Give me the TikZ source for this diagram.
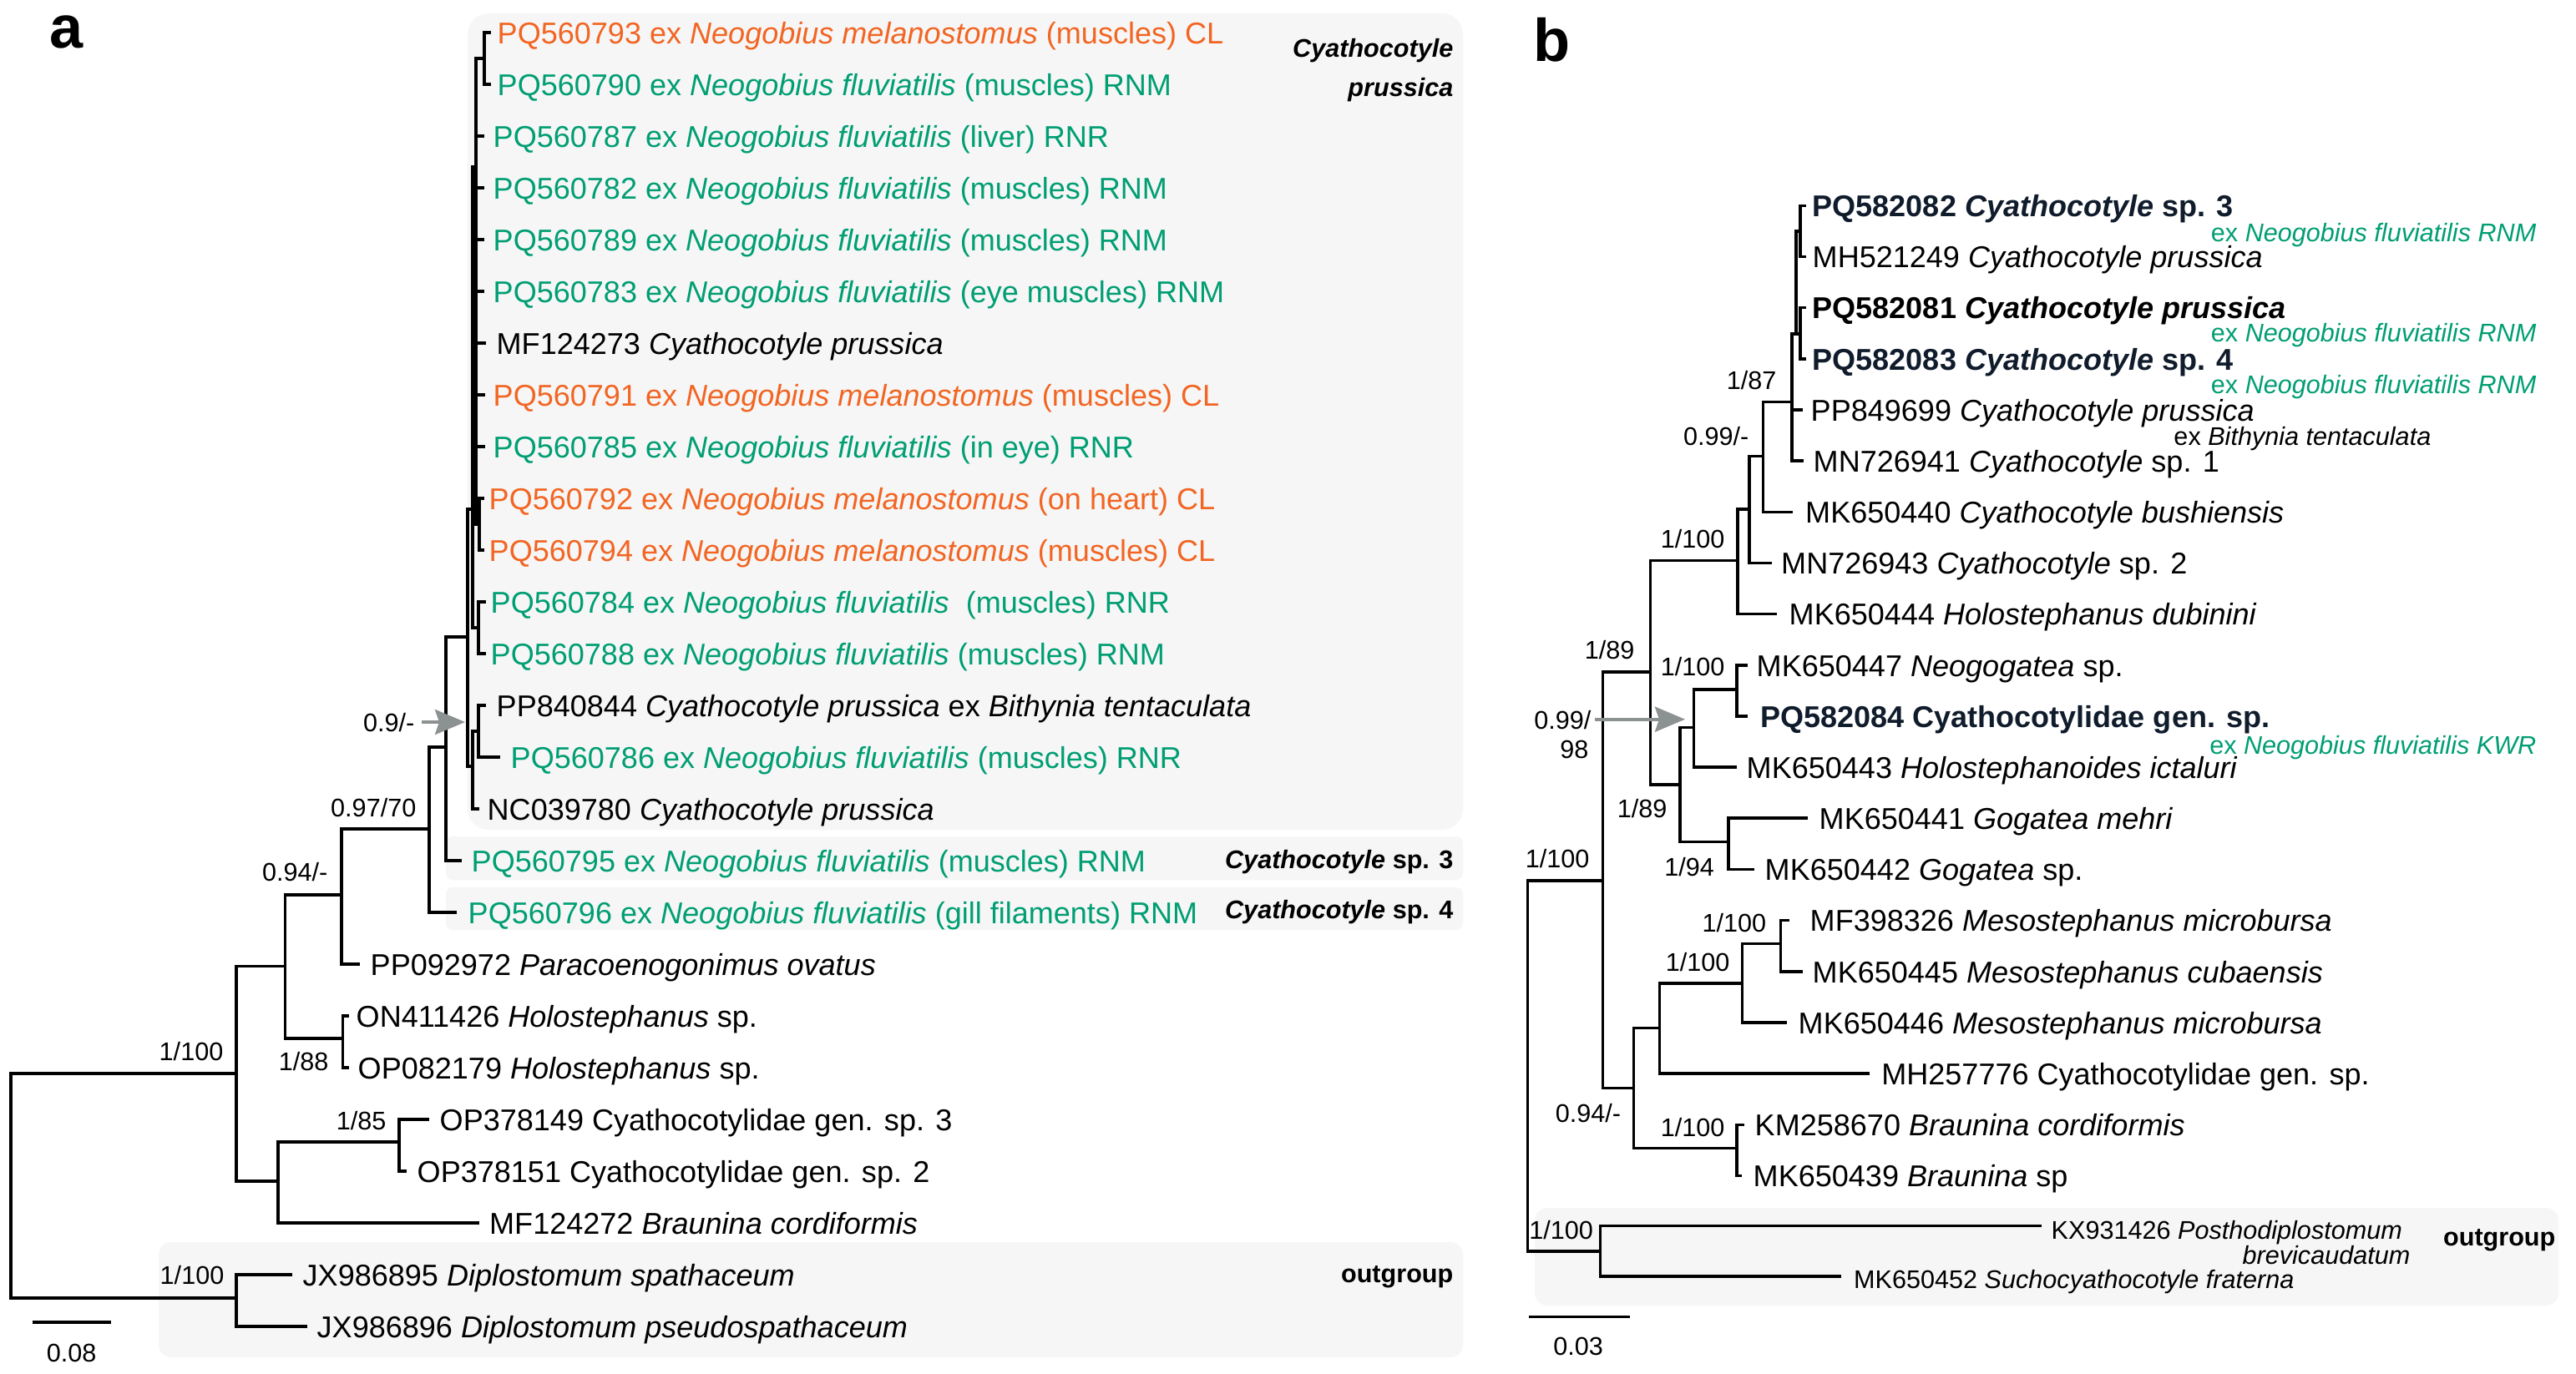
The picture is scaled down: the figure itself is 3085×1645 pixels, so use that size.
\documentclass[tikz,border=0pt]{standalone}
\usepackage{fontspec}
\setmainfont{Liberation Sans}
\usetikzlibrary{arrows.meta}
\definecolor{orng}{RGB}{242,101,34}
\definecolor{grn}{RGB}{0,158,115}
\definecolor{boxg}{RGB}{246,246,246}
\definecolor{arrg}{RGB}{140,145,145}
\definecolor{navy}{RGB}{16,28,44}
\newcommand\mainfs{\fontsize{10.25}{12}\selectfont}
\newcommand\smallfs{\fontsize{8.7}{10}\selectfont}
\newcommand\NeoM{\textit{Neogobius melanostomus}}
\newcommand\NeoF{\textit{Neogobius fluviatilis}}
\newcommand\Cyp{\textit{Cyathocotyle prussica}}
\begin{document}
\begin{tikzpicture}[x=0.01cm,y=-0.01cm,
  br/.style={line width=0.9pt,line cap=rect},
  tx/.style={anchor=base west,inner sep=0pt,font=\mainfs},
  txs/.style={anchor=base west,inner sep=0pt,font=\smallfs},
  supp/.style={anchor=base east,inner sep=0pt,font=\smallfs},
  rlab/.style={anchor=base east,inner sep=0pt,font=\smallfs\bfseries},
  box/.style={fill=boxg},
  pointer/.style={draw=arrg,fill=arrg,line width=1.1pt,-{Stealth[length=0.36cm,width=0.30cm,inset=0.05cm]}},
  panel/.style={anchor=base west,inner sep=0pt,font=\fontsize{20.5}{24}\selectfont\bfseries}]
\useasboundingbox (0,0) rectangle (3085,1645);
\fill[white] (0,0) rectangle (3085,1645);

% ---------------- boxes ----------------
\fill[box,rounded corners=0.25cm] (560,16) rectangle (1752,994);
\fill[box,rounded corners=0.08cm] (534,1002) rectangle (1752,1054);
\fill[box,rounded corners=0.08cm] (534,1063) rectangle (1752,1114);
\fill[box,rounded corners=0.15cm] (190,1488) rectangle (1752,1626);
\fill[box,rounded corners=0.15cm] (1838,1447) rectangle (3064,1564);

% ---------------- panel labels ----------------
\node[panel] (pa) at (59,57) {a};
\node[panel] (pb) at (1836,73) {b};

% ================= PANEL A =================
\coordinate (Ra) at (13,1420);
\coordinate (ING) at (283,1286);
\coordinate (OUT) at (283,1555);
\coordinate (BRn) at (333,1415);
\coordinate (OPn) at (478,1368);
\coordinate (An) at (341.6,1157.5);
\coordinate (HOL) at (410.5,1244);
\coordinate (Cp) at (409,1072);
\coordinate (Cn) at (514,993);
\coordinate (Dn) at (534,895);
\coordinate (En) at (560,763);
\coordinate (Un) at (566,610);
\coordinate (Vn) at (570,200);
\coordinate (n1) at (580,70);
\coordinate (Xn) at (574,628);
\coordinate (Wn) at (573,752);
\coordinate (Ln) at (566,918);
\coordinate (Yn) at (573,876);
% tips
\coordinate (r1) at (586,39);
\coordinate (r2) at (586,101);
\coordinate (r3) at (578,163);
\coordinate (r4) at (578,225);
\coordinate (r5) at (578,287);
\coordinate (r6) at (578,349);
\coordinate (r7) at (580,411);
\coordinate (r8) at (579,473);
\coordinate (r9) at (579,535);
\coordinate (r10) at (578,597);
\coordinate (r11) at (578,659);
\coordinate (r12) at (580,721);
\coordinate (r13) at (580,783);
\coordinate (r14) at (580,845);
\coordinate (r15) at (597,907);
\coordinate (r16) at (572,969);
\coordinate (r17) at (551,1031);
\coordinate (r18) at (545,1093);
\coordinate (r19) at (429,1155);
\coordinate (r20) at (416,1217);
\coordinate (r21) at (416,1279);
\coordinate (r22) at (512,1341);
\coordinate (r23) at (485,1403);
\coordinate (r24) at (572,1465);
\coordinate (r25) at (348,1527);
\coordinate (r26) at (366,1589);

\foreach \p/\c in {Ra/ING,Ra/OUT,OUT/r25,OUT/r26,ING/An,ING/BRn,BRn/OPn,BRn/r24,
  OPn/r22,OPn/r23,An/Cp,An/HOL,HOL/r20,HOL/r21,Cp/Cn,Cp/r19,Cn/Dn,Cn/r18,
  Dn/En,Dn/r17,En/Un,En/Ln,Un/Vn,Un/Wn,Vn/n1,Vn/r3,Vn/r4,Vn/r5,Vn/r6,Vn/r7,
  Vn/r8,Vn/r9,Vn/Xn,n1/r1,n1/r2,Xn/r10,Xn/r11,Wn/r12,Wn/r13,Ln/Yn,Ln/r16,
  Yn/r14,Yn/r15}
  \draw[br] (\p) |- (\c);

% tip labels
\node[tx,text=orng] (ta1) at (595,52) {PQ560793 ex \NeoM{} (muscles) CL};
\node[tx,text=grn] (ta2) at (595,114) {PQ560790 ex \NeoF{} (muscles) RNM};
\node[tx,text=grn] (ta3) at (590,176) {PQ560787 ex \NeoF{} (liver) RNR};
\node[tx,text=grn] (ta4) at (590,238) {PQ560782 ex \NeoF{} (muscles) RNM};
\node[tx,text=grn] (ta5) at (590,300) {PQ560789 ex \NeoF{} (muscles) RNM};
\node[tx,text=grn] (ta6) at (590,362) {PQ560783 ex \NeoF{} (eye muscles) RNM};
\node[tx] (ta7) at (594,424) {MF124273 \Cyp};
\node[tx,text=orng] (ta8) at (590,486) {PQ560791 ex \NeoM{} (muscles) CL};
\node[tx,text=grn] (ta9) at (590,548) {PQ560785 ex \NeoF{} (in eye) RNR};
\node[tx,text=orng] (ta10) at (585,610) {PQ560792 ex \NeoM{} (on heart) CL};
\node[tx,text=orng] (ta11) at (585,672) {PQ560794 ex \NeoM{} (muscles) CL};
\node[tx,text=grn] (ta12) at (587,734) {PQ560784 ex \NeoF{}\ \ (muscles) RNR};
\node[tx,text=grn] (ta13) at (587,796) {PQ560788 ex \NeoF{} (muscles) RNM};
\node[tx] (ta14) at (594,858) {PP840844 \Cyp{} ex \textit{Bithynia tentaculata}};
\node[tx,text=grn] (ta15) at (611,920) {PQ560786 ex \NeoF{} (muscles) RNR};
\node[tx] (ta16) at (583,982) {NC039780 \Cyp};
\node[tx,text=grn] (ta17) at (564,1044) {PQ560795 ex \NeoF{} (muscles) RNM};
\node[tx,text=grn] (ta18) at (560,1106) {PQ560796 ex \NeoF{} (gill filaments) RNM};
\node[tx] (ta19) at (443,1168) {PP092972 \textit{Paracoenogonimus ovatus}};
\node[tx] (ta20) at (426,1230) {ON411426 \textit{Holostephanus} sp.};
\node[tx] (ta21) at (428,1292) {OP082179 \textit{Holostephanus} sp.};
\node[tx] (ta22) at (526,1354) {OP378149 Cyathocotylidae gen. sp. 3};
\node[tx] (ta23) at (499,1416) {OP378151 Cyathocotylidae gen. sp. 2};
\node[tx] (ta24) at (585.5,1478) {MF124272 \textit{Braunina cordiformis}};
\node[tx] (ta25) at (362,1540) {JX986895 \textit{Diplostomum spathaceum}};
\node[tx] (ta26) at (379,1602) {JX986896 \textit{Diplostomum pseudospathaceum}};

% group labels
\node[rlab] (ga1) at (1741,68) {\itshape Cyathocotyle};
\node[rlab] (ga2) at (1741,115) {\itshape prussica};
\node[rlab] (ga3) at (1741,1040) {\textit{Cyathocotyle} sp. 3};
\node[rlab] (ga4) at (1741,1100) {\textit{Cyathocotyle} sp. 4};
\node[rlab] (ga5) at (1741,1536) {outgroup};

% supports
\node[supp] (sa1) at (497,876) {0.9/-};
\node[supp] (sa2) at (499,978) {0.97/70};
\node[supp] (sa3) at (393,1055) {0.94/-};
\node[supp] (sa4) at (268,1270) {1/100};
\node[supp] (sa5) at (394,1282) {1/88};
\node[supp] (sa6) at (463,1353) {1/85};
\node[supp] (sa7) at (269,1538) {1/100};

% arrow a
\coordinate (arA) at (557,865);
\draw[pointer] (sa1.east |- arA) ++(8,0) -- (arA);

% scale bar a
\coordinate (sba1) at (38.5,1584);
\coordinate (sba2) at (133,1584);
\draw[br,line cap=butt] (sba1) -- (sba2);
\node[anchor=base,inner sep=0pt,font=\smallfs] (sbta) at (85.7,1631) {0.08};

% ================= PANEL B =================
\coordinate (Rb) at (1829.8,1277);
\coordinate (W1) at (1919.3,1055);
\coordinate (Ob) at (1916.8,1499);
\coordinate (Y1) at (1976.5,805);
\coordinate (X1) at (2081,671.7);
\coordinate (X2) at (2095,610);
\coordinate (X3) at (2111.7,546.7);
\coordinate (N87) at (2146,481.7);
\coordinate (C0) at (2151,400);
\coordinate (C1) at (2156,277);
\coordinate (C2) at (2156,400);
\coordinate (Y2) at (2012,940);
\coordinate (Y3) at (2028.8,871.7);
\coordinate (Z1) at (2080,826);
\coordinate (Y4) at (2070,1008.3);
\coordinate (M0) at (1956.6,1303.5);
\coordinate (M1) at (1987.3,1231.4);
\coordinate (M2) at (2086.8,1178);
\coordinate (M3) at (2132.4,1130.5);
\coordinate (BRb) at (2080,1375.6);
% tips
\coordinate (b1) at (2161,246.5);
\coordinate (b2) at (2161,307.7);
\coordinate (b3) at (2161,368.8);
\coordinate (b4) at (2161,430);
\coordinate (b5) at (2157,491);
\coordinate (b6) at (2158,552);
\coordinate (b7) at (2145,613.4);
\coordinate (b8) at (2120,674.5);
\coordinate (b9) at (2126.6,735.7);
\coordinate (b10) at (2091,797);
\coordinate (b11) at (2091,858);
\coordinate (b12) at (2078.5,919);
\coordinate (b13) at (2163,980);
\coordinate (b14) at (2099,1041.5);
\coordinate (b15) at (2141,1102.6);
\coordinate (b16) at (2157,1164);
\coordinate (b17) at (2138,1225);
\coordinate (b18) at (2237.7,1286);
\coordinate (b19) at (2087,1347.5);
\coordinate (b20) at (2084,1408.6);
\coordinate (b21) at (2443.4,1468.6);
\coordinate (b22) at (2203,1529);

\foreach \p/\c in {Rb/W1,Rb/Ob,Ob/b21,Ob/b22,W1/Y1,W1/M0,Y1/X1,Y1/Y2,X1/X2,X1/b9,
  X2/X3,X2/b8,X3/N87,X3/b7,N87/C0,N87/b5,N87/b6,C0/C1,C0/C2,C1/b1,C1/b2,C2/b3,C2/b4,
  Y2/Y3,Y2/Y4,Y3/Z1,Y3/b12,Z1/b10,Z1/b11,Y4/b13,Y4/b14,M0/M1,M0/BRb,M1/M2,M1/b18,
  M2/M3,M2/b17,M3/b15,M3/b16,BRb/b19,BRb/b20}
  \draw[br] (\p) |- (\c);

% tip labels b
\node[tx,text=navy,font=\mainfs\bfseries] (tb1) at (2170,259.5) {PQ582082 \textit{Cyathocotyle} sp. 3};
\node[tx] (tb2) at (2170,320.7) {MH521249 \Cyp};
\node[tx,font=\mainfs\bfseries] (tb3) at (2170,381.8) {PQ582081 \Cyp};
\node[tx,text=navy,font=\mainfs\bfseries] (tb4) at (2170,443) {PQ582083 \textit{Cyathocotyle} sp. 4};
\node[tx] (tb5) at (2168,504) {PP849699 \Cyp};
\node[tx] (tb6) at (2171,565) {MN726941 \textit{Cyathocotyle} sp. 1};
\node[tx] (tb7) at (2161.5,626.4) {MK650440 \textit{Cyathocotyle bushiensis}};
\node[tx] (tb8) at (2132.5,687.5) {MN726943 \textit{Cyathocotyle} sp. 2};
\node[tx] (tb9) at (2142,748.7) {MK650444 \textit{Holostephanus dubinini}};
\node[tx] (tb10) at (2103,810) {MK650447 \textit{Neogogatea} sp.};
\node[tx,text=navy,font=\mainfs\bfseries] (tb11) at (2107.5,871) {PQ582084 Cyathocotylidae gen. sp.};
\node[tx] (tb12) at (2091,932) {MK650443 \textit{Holostephanoides ictaluri}};
\node[tx] (tb13) at (2178,993) {MK650441 \textit{Gogatea mehri}};
\node[tx] (tb14) at (2113,1054.5) {MK650442 \textit{Gogatea} sp.};
\node[tx] (tb15) at (2167,1115.6) {MF398326 \textit{Mesostephanus microbursa}};
\node[tx] (tb16) at (2170,1177) {MK650445 \textit{Mesostephanus cubaensis}};
\node[tx] (tb17) at (2153,1238) {MK650446 \textit{Mesostephanus microbursa}};
\node[tx] (tb18) at (2252.6,1299) {MH257776 Cyathocotylidae gen. sp.};
\node[tx] (tb19) at (2101,1360.5) {KM258670 \textit{Braunina cordiformis}};
\node[tx] (tb20) at (2099,1421.6) {MK650439 \textit{Braunina} sp};
\node[txs] (tb21) at (2456,1484) {KX931426 \textit{Posthodiplostomum}};
\node[anchor=base east,inner sep=0pt,font=\smallfs\itshape] (tb21b) at (2887,1514.5) {brevicaudatum};
\node[txs] (tb22) at (2219.5,1543) {MK650452 \textit{Suchocyathocotyle fraterna}};

% host annotations
\node[anchor=base east,inner sep=0pt,font=\smallfs,text=grn] (hb1) at (3038,289) {ex \textit{Neogobius fluviatilis RNM}};
\node[anchor=base east,inner sep=0pt,font=\smallfs,text=grn] (hb2) at (3038,409) {ex \textit{Neogobius fluviatilis RNM}};
\node[anchor=base east,inner sep=0pt,font=\smallfs,text=grn] (hb3) at (3038,471) {ex \textit{Neogobius fluviatilis RNM}};
\node[anchor=base east,inner sep=0pt,font=\smallfs] (hb4) at (2912,533) {ex \textit{Bithynia tentaculata}};
\node[anchor=base east,inner sep=0pt,font=\smallfs,text=grn] (hb5) at (3038,903) {ex \textit{Neogobius fluviatilis KWR}};

\node[rlab] (gb1) at (3061,1492) {outgroup};

% supports b
\node[supp] (sb1) at (2128,466) {1/87};
\node[supp] (sb2) at (2095,533) {0.99/-};
\node[supp] (sb3) at (2066,656) {1/100};
\node[supp] (sb4) at (1958,789) {1/89};
\node[supp] (sb5) at (2066,809) {1/100};
\node[supp] (sb6) at (1906,873) {0.99/};
\node[supp] (sb6b) at (1903,908) {98};
\node[supp] (sb7) at (1997,979) {1/89};
\node[supp] (sb8) at (2053.6,1049) {1/94};
\node[supp] (sb9) at (1904,1039) {1/100};
\node[supp] (sb10) at (2115.8,1116) {1/100};
\node[supp] (sb11) at (2072,1163) {1/100};
\node[supp] (sb12) at (1941.7,1344) {0.94/-};
\node[supp] (sb13) at (2066,1361) {1/100};
\node[supp] (sb14) at (1908.5,1484) {1/100};

% arrow b
\coordinate (arB) at (2018,861.7);
\coordinate (arB0) at (1910,861.7);
\draw[pointer] (arB0) -- (arB);

% scale bar b
\coordinate (sbb1) at (1831.4,1577.5);
\coordinate (sbb2) at (1951.6,1577.5);
\draw[br,line cap=butt] (sbb1) -- (sbb2);
\node[anchor=base,inner sep=0pt,font=\smallfs] (sbtb) at (1890,1623) {0.03};
\end{tikzpicture}
\end{document}
